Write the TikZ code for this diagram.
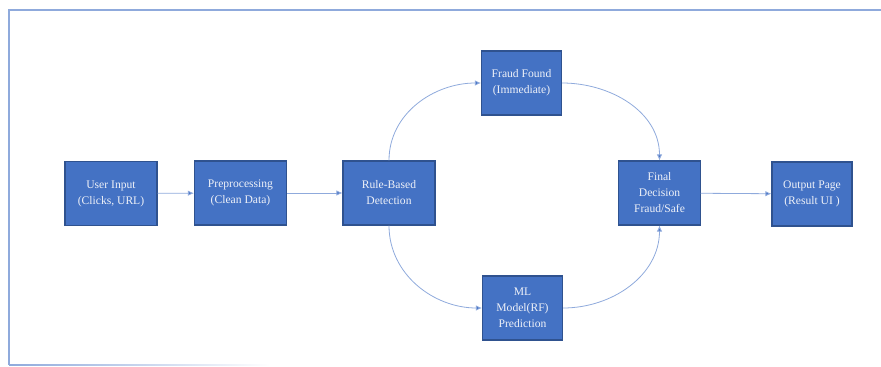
\documentclass[tikz,border=0pt]{standalone}
\usepackage{fontspec}
\setmainfont{Liberation Serif}
\usepackage{xcolor}
\usepackage{tikz}
\usetikzlibrary{arrows.meta, positioning}

\definecolor{boxblue}{HTML}{4472C4}
\definecolor{boxedge}{HTML}{2F528F}
\definecolor{linkblue}{HTML}{8FAADC}
\definecolor{textlight}{HTML}{EEF1F8}

\begin{document}
\begin{tikzpicture}[
    x=0.75pt, y=-0.75pt,
    font=\fontsize{8.7pt}{12pt}\selectfont,
    % Step boxes
    stage/.style={draw=boxedge, thick, rectangle, fill=boxblue, text=textlight, minimum width=69pt, minimum height=48pt, align=center, inner sep=1pt},
    smallstage/.style={stage, minimum width=60pt},
    % Connectors
    link/.style={draw=linkblue, line width=0.6pt, -{Latex[length=4.5pt, width=4pt, fill=boxblue]}},
    frameline/.style={draw=linkblue, line width=0.8pt}
]
\useasboundingbox (0,0) rectangle (881,367);

% ---------------------------------------------------
% 1. FRAME
% ---------------------------------------------------
\draw[frameline] (881,10) -- (9,10) -- (9,365);
\shade[left color=linkblue, right color=white] (9,364.3) rectangle (270,365.7);

% ---------------------------------------------------
% 2. NODES
% ---------------------------------------------------
\node[stage] (input) at (111, 193.5) {User Input\\(Clicks, URL)};
\node[stage] (prep) at (240.5, 193) {Preprocessing\\(Clean Data)};
\node[stage] (rule) at (389, 193) {Rule-Based\\Detection};
\node[smallstage] (fraud) at (521.5, 83) {Fraud Found\\(Immediate)};
\node[smallstage] (ml) at (522.5, 308) {ML\\Model(RF)\\Prediction};
\node[smallstage, minimum width=61pt] (final) at (659.5, 193) {Final\\Decision\\Fraud/Safe};
\node[smallstage] (output) at (812, 194) {Output Page\\(Result UI )};

% ---------------------------------------------------
% 3. CONNECTIONS
% ---------------------------------------------------
\draw[link] (input) -- (prep);
\draw[link] (prep) -- (rule);

% Upper branch
\draw[link] (rule.north) to[out=90, in=180] (fraud.west);
\draw[link] (fraud.east) to[out=0, in=90] (final.north);

% Lower branch
\draw[link] (rule.south) to[out=-90, in=180] (ml.west);
\draw[link] (ml.east) to[out=0, in=-90] (final.south);

\draw[link] (final) -- (output);

\end{tikzpicture}
\end{document}
